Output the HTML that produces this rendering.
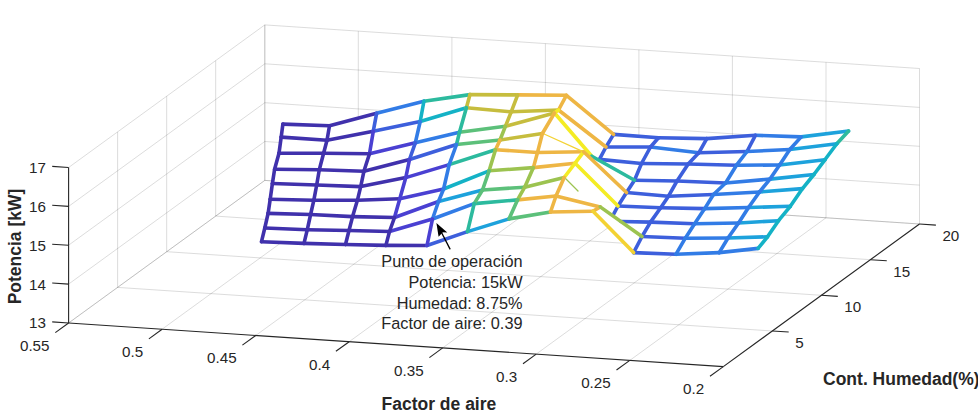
<!DOCTYPE html>
<html><head><meta charset="utf-8"><style>
html,body{margin:0;padding:0;background:#fff;}
svg{display:block;}
text{font-family:"Liberation Sans",sans-serif;fill:#262626;}
</style></head><body>
<svg width="978" height="413" viewBox="0 0 978 413">
<rect width="978" height="413" fill="#fff"/>
<g><line x1="68.6" y1="323.0" x2="264.8" y2="180.4" stroke="#262626" stroke-width="1" stroke-opacity="0.16"/>
<line x1="162.1" y1="329.2" x2="358.3" y2="186.6" stroke="#262626" stroke-width="1" stroke-opacity="0.16"/>
<line x1="255.7" y1="335.5" x2="451.9" y2="192.9" stroke="#262626" stroke-width="1" stroke-opacity="0.16"/>
<line x1="349.2" y1="341.7" x2="545.4" y2="199.1" stroke="#262626" stroke-width="1" stroke-opacity="0.16"/>
<line x1="442.7" y1="347.9" x2="638.9" y2="205.3" stroke="#262626" stroke-width="1" stroke-opacity="0.16"/>
<line x1="536.2" y1="354.1" x2="732.4" y2="211.5" stroke="#262626" stroke-width="1" stroke-opacity="0.16"/>
<line x1="629.8" y1="360.4" x2="826.0" y2="217.8" stroke="#262626" stroke-width="1" stroke-opacity="0.16"/>
<line x1="723.3" y1="366.6" x2="919.5" y2="224.0" stroke="#262626" stroke-width="1" stroke-opacity="0.16"/>
<line x1="117.6" y1="287.4" x2="772.4" y2="331.0" stroke="#262626" stroke-width="1" stroke-opacity="0.16"/>
<line x1="166.7" y1="251.7" x2="821.4" y2="295.3" stroke="#262626" stroke-width="1" stroke-opacity="0.16"/>
<line x1="215.7" y1="216.1" x2="870.5" y2="259.7" stroke="#262626" stroke-width="1" stroke-opacity="0.16"/>
<line x1="264.8" y1="180.4" x2="919.5" y2="224.0" stroke="#262626" stroke-width="1" stroke-opacity="0.16"/>
<line x1="264.8" y1="180.4" x2="264.8" y2="24.9" stroke="#262626" stroke-width="1" stroke-opacity="0.16"/>
<line x1="358.3" y1="186.6" x2="358.3" y2="31.1" stroke="#262626" stroke-width="1" stroke-opacity="0.16"/>
<line x1="451.9" y1="192.9" x2="451.9" y2="37.4" stroke="#262626" stroke-width="1" stroke-opacity="0.16"/>
<line x1="545.4" y1="199.1" x2="545.4" y2="43.6" stroke="#262626" stroke-width="1" stroke-opacity="0.16"/>
<line x1="638.9" y1="205.3" x2="638.9" y2="49.8" stroke="#262626" stroke-width="1" stroke-opacity="0.16"/>
<line x1="732.4" y1="211.5" x2="732.4" y2="56.0" stroke="#262626" stroke-width="1" stroke-opacity="0.16"/>
<line x1="826.0" y1="217.8" x2="826.0" y2="62.3" stroke="#262626" stroke-width="1" stroke-opacity="0.16"/>
<line x1="919.5" y1="224.0" x2="919.5" y2="68.5" stroke="#262626" stroke-width="1" stroke-opacity="0.16"/>
<line x1="264.8" y1="180.4" x2="919.5" y2="224.0" stroke="#262626" stroke-width="1" stroke-opacity="0.16"/>
<line x1="264.8" y1="141.5" x2="919.5" y2="185.1" stroke="#262626" stroke-width="1" stroke-opacity="0.16"/>
<line x1="264.8" y1="102.7" x2="919.5" y2="146.3" stroke="#262626" stroke-width="1" stroke-opacity="0.16"/>
<line x1="264.8" y1="63.8" x2="919.5" y2="107.4" stroke="#262626" stroke-width="1" stroke-opacity="0.16"/>
<line x1="264.8" y1="24.9" x2="919.5" y2="68.5" stroke="#262626" stroke-width="1" stroke-opacity="0.16"/>
<line x1="117.6" y1="287.4" x2="117.6" y2="131.9" stroke="#262626" stroke-width="1" stroke-opacity="0.16"/>
<line x1="166.7" y1="251.7" x2="166.7" y2="96.2" stroke="#262626" stroke-width="1" stroke-opacity="0.16"/>
<line x1="215.7" y1="216.1" x2="215.7" y2="60.6" stroke="#262626" stroke-width="1" stroke-opacity="0.16"/>
<line x1="264.8" y1="180.4" x2="264.8" y2="24.9" stroke="#262626" stroke-width="1" stroke-opacity="0.16"/>
<line x1="68.6" y1="323.0" x2="264.8" y2="180.4" stroke="#262626" stroke-width="1" stroke-opacity="0.16"/>
<line x1="68.6" y1="284.1" x2="264.8" y2="141.5" stroke="#262626" stroke-width="1" stroke-opacity="0.16"/>
<line x1="68.6" y1="245.2" x2="264.8" y2="102.7" stroke="#262626" stroke-width="1" stroke-opacity="0.16"/>
<line x1="68.6" y1="206.4" x2="264.8" y2="63.8" stroke="#262626" stroke-width="1" stroke-opacity="0.16"/>
<line x1="68.6" y1="167.5" x2="264.8" y2="24.9" stroke="#262626" stroke-width="1" stroke-opacity="0.16"/></g>
<g><line x1="68.6" y1="323.0" x2="68.6" y2="167.5" stroke="#262626" stroke-width="1.1"/>
<line x1="68.6" y1="323.0" x2="723.3" y2="366.6" stroke="#262626" stroke-width="1.1"/>
<line x1="723.3" y1="366.6" x2="919.5" y2="224.0" stroke="#262626" stroke-width="1.1"/>
<line x1="68.6" y1="323.0" x2="55.3" y2="332.6" stroke="#262626" stroke-width="1.1"/>
<line x1="162.1" y1="329.2" x2="148.9" y2="338.9" stroke="#262626" stroke-width="1.1"/>
<line x1="255.7" y1="335.5" x2="242.4" y2="345.1" stroke="#262626" stroke-width="1.1"/>
<line x1="349.2" y1="341.7" x2="335.9" y2="351.3" stroke="#262626" stroke-width="1.1"/>
<line x1="442.7" y1="347.9" x2="429.4" y2="357.6" stroke="#262626" stroke-width="1.1"/>
<line x1="536.2" y1="354.1" x2="523.0" y2="363.8" stroke="#262626" stroke-width="1.1"/>
<line x1="629.8" y1="360.4" x2="616.5" y2="370.0" stroke="#262626" stroke-width="1.1"/>
<line x1="723.3" y1="366.6" x2="710.0" y2="376.2" stroke="#262626" stroke-width="1.1"/>
<line x1="68.6" y1="323.0" x2="52.2" y2="321.9" stroke="#262626" stroke-width="1.1"/>
<line x1="68.6" y1="284.1" x2="52.2" y2="283.0" stroke="#262626" stroke-width="1.1"/>
<line x1="68.6" y1="245.2" x2="52.2" y2="244.2" stroke="#262626" stroke-width="1.1"/>
<line x1="68.6" y1="206.4" x2="52.2" y2="205.3" stroke="#262626" stroke-width="1.1"/>
<line x1="68.6" y1="167.5" x2="52.2" y2="166.4" stroke="#262626" stroke-width="1.1"/>
<line x1="772.4" y1="331.0" x2="788.7" y2="332.0" stroke="#262626" stroke-width="1.1"/>
<line x1="821.4" y1="295.3" x2="837.8" y2="296.4" stroke="#262626" stroke-width="1.1"/>
<line x1="870.5" y1="259.7" x2="886.8" y2="260.7" stroke="#262626" stroke-width="1.1"/>
<line x1="919.5" y1="224.0" x2="935.9" y2="225.1" stroke="#262626" stroke-width="1.1"/></g>
<g><text x="45.9" y="328.4" text-anchor="end" font-size="15.2" font-weight="normal">13</text><text x="45.9" y="289.5" text-anchor="end" font-size="15.2" font-weight="normal">14</text><text x="45.9" y="250.7" text-anchor="end" font-size="15.2" font-weight="normal">15</text><text x="45.9" y="211.8" text-anchor="end" font-size="15.2" font-weight="normal">16</text><text x="45.9" y="172.9" text-anchor="end" font-size="15.2" font-weight="normal">17</text><text x="49.5" y="350.8" text-anchor="end" font-size="15.2" font-weight="normal">0.55</text><text x="143.1" y="357.1" text-anchor="end" font-size="15.2" font-weight="normal">0.5</text><text x="236.6" y="363.3" text-anchor="end" font-size="15.2" font-weight="normal">0.45</text><text x="330.1" y="369.5" text-anchor="end" font-size="15.2" font-weight="normal">0.4</text><text x="423.6" y="375.8" text-anchor="end" font-size="15.2" font-weight="normal">0.35</text><text x="517.2" y="382.0" text-anchor="end" font-size="15.2" font-weight="normal">0.3</text><text x="610.7" y="388.2" text-anchor="end" font-size="15.2" font-weight="normal">0.25</text><text x="704.2" y="394.4" text-anchor="end" font-size="15.2" font-weight="normal">0.2</text><text x="795.2" y="347.9" text-anchor="start" font-size="15.2" font-weight="normal">5</text><text x="844.3" y="312.3" text-anchor="start" font-size="15.2" font-weight="normal">10</text><text x="893.3" y="276.6" text-anchor="start" font-size="15.2" font-weight="normal">15</text><text x="942.4" y="241.0" text-anchor="start" font-size="15.2" font-weight="normal">20</text></g>
<g><polygon points="282.9,124.1 329.5,125.8 376.6,113.3 423.9,101.2 470.0,94.6 517.7,94.9 566.4,95.3 613.6,134.4 658.5,137.8 706.8,138.6 755.4,135.3 801.2,136.9 848.6,131.0 836.8,143.7 824.9,159.8 813.9,174.5 802.5,188.6 790.3,206.3 778.5,220.7 767.5,236.8 758.1,248.4 719.2,252.6 675.9,254.3 633.6,252.6 593.0,211.2 550.5,212.0 509.0,218.9 467.5,231.6 427.0,245.5 385.9,245.4 345.5,244.5 304.0,243.4 261.5,241.7 264.8,228.0 268.1,213.4 270.2,199.2 272.4,183.5 274.6,169.2 279.0,153.2 281.2,137.1" fill="#fff"/>
<line x1="658.5" y1="137.8" x2="706.8" y2="138.6" stroke="#3d5fdc" stroke-width="3.6" stroke-linecap="round"/>
<line x1="706.8" y1="138.6" x2="755.4" y2="135.3" stroke="#3d5fdc" stroke-width="3.6" stroke-linecap="round"/>
<line x1="755.4" y1="135.3" x2="801.2" y2="136.9" stroke="#327ce6" stroke-width="3.6" stroke-linecap="round"/>
<line x1="801.2" y1="136.9" x2="848.6" y2="131.0" stroke="#1da2dc" stroke-width="3.6" stroke-linecap="round"/>
<line x1="650.5" y1="147.0" x2="698.8" y2="152.8" stroke="#327ce6" stroke-width="3.6" stroke-linecap="round"/>
<line x1="698.8" y1="152.8" x2="747.0" y2="151.5" stroke="#3d5fdc" stroke-width="3.6" stroke-linecap="round"/>
<line x1="747.0" y1="151.5" x2="789.8" y2="149.5" stroke="#327ce6" stroke-width="3.6" stroke-linecap="round"/>
<line x1="789.8" y1="149.5" x2="836.8" y2="143.7" stroke="#1da2dc" stroke-width="3.6" stroke-linecap="round"/>
<line x1="641.5" y1="163.5" x2="688.2" y2="164.0" stroke="#3d5fdc" stroke-width="3.6" stroke-linecap="round"/>
<line x1="688.2" y1="164.0" x2="736.5" y2="165.2" stroke="#3d5fdc" stroke-width="3.6" stroke-linecap="round"/>
<line x1="736.5" y1="165.2" x2="779.6" y2="165.0" stroke="#327ce6" stroke-width="3.6" stroke-linecap="round"/>
<line x1="779.6" y1="165.0" x2="824.9" y2="159.8" stroke="#1da2dc" stroke-width="3.6" stroke-linecap="round"/>
<line x1="634.5" y1="180.2" x2="677.0" y2="181.0" stroke="#3d5fdc" stroke-width="3.6" stroke-linecap="round"/>
<line x1="677.0" y1="181.0" x2="725.6" y2="183.0" stroke="#3d5fdc" stroke-width="3.6" stroke-linecap="round"/>
<line x1="725.6" y1="183.0" x2="770.0" y2="179.1" stroke="#327ce6" stroke-width="3.6" stroke-linecap="round"/>
<line x1="770.0" y1="179.1" x2="813.9" y2="174.5" stroke="#1da2dc" stroke-width="3.6" stroke-linecap="round"/>
<line x1="626.5" y1="192.5" x2="668.5" y2="196.2" stroke="#3d5fdc" stroke-width="3.6" stroke-linecap="round"/>
<line x1="668.5" y1="196.2" x2="713.5" y2="194.5" stroke="#3d5fdc" stroke-width="3.6" stroke-linecap="round"/>
<line x1="713.5" y1="194.5" x2="759.5" y2="192.0" stroke="#327ce6" stroke-width="3.6" stroke-linecap="round"/>
<line x1="759.5" y1="192.0" x2="802.5" y2="188.6" stroke="#1da2dc" stroke-width="3.6" stroke-linecap="round"/>
<line x1="618.0" y1="206.0" x2="660.7" y2="207.7" stroke="#3d5fdc" stroke-width="3.6" stroke-linecap="round"/>
<line x1="660.7" y1="207.7" x2="704.7" y2="208.6" stroke="#3d5fdc" stroke-width="3.6" stroke-linecap="round"/>
<line x1="704.7" y1="208.6" x2="748.5" y2="207.5" stroke="#327ce6" stroke-width="3.6" stroke-linecap="round"/>
<line x1="748.5" y1="207.5" x2="790.3" y2="206.3" stroke="#1da2dc" stroke-width="3.6" stroke-linecap="round"/>
<line x1="650.5" y1="222.1" x2="694.6" y2="223.8" stroke="#3d5fdc" stroke-width="3.6" stroke-linecap="round"/>
<line x1="694.6" y1="223.8" x2="738.6" y2="223.0" stroke="#327ce6" stroke-width="3.6" stroke-linecap="round"/>
<line x1="738.6" y1="223.0" x2="778.5" y2="220.7" stroke="#1da2dc" stroke-width="3.6" stroke-linecap="round"/>
<line x1="642.0" y1="236.5" x2="685.3" y2="238.2" stroke="#3d5fdc" stroke-width="3.6" stroke-linecap="round"/>
<line x1="685.3" y1="238.2" x2="728.0" y2="238.0" stroke="#327ce6" stroke-width="3.6" stroke-linecap="round"/>
<line x1="728.0" y1="238.0" x2="767.5" y2="236.8" stroke="#1da2dc" stroke-width="3.6" stroke-linecap="round"/>
<line x1="633.6" y1="252.6" x2="675.9" y2="254.3" stroke="#3d5fdc" stroke-width="3.6" stroke-linecap="round"/>
<line x1="675.9" y1="254.3" x2="719.2" y2="252.6" stroke="#327ce6" stroke-width="3.6" stroke-linecap="round"/>
<line x1="719.2" y1="252.6" x2="758.1" y2="248.4" stroke="#327ce6" stroke-width="3.6" stroke-linecap="round"/>
<line x1="706.8" y1="138.6" x2="698.8" y2="152.8" stroke="#3d5fdc" stroke-width="3.6" stroke-linecap="round"/>
<line x1="698.8" y1="152.8" x2="688.2" y2="164.0" stroke="#3d5fdc" stroke-width="3.6" stroke-linecap="round"/>
<line x1="688.2" y1="164.0" x2="677.0" y2="181.0" stroke="#3d5fdc" stroke-width="3.6" stroke-linecap="round"/>
<line x1="677.0" y1="181.0" x2="668.5" y2="196.2" stroke="#3d5fdc" stroke-width="3.6" stroke-linecap="round"/>
<line x1="668.5" y1="196.2" x2="660.7" y2="207.7" stroke="#3d5fdc" stroke-width="3.6" stroke-linecap="round"/>
<line x1="660.7" y1="207.7" x2="650.5" y2="222.1" stroke="#3d5fdc" stroke-width="3.6" stroke-linecap="round"/>
<line x1="650.5" y1="222.1" x2="642.0" y2="236.5" stroke="#3d5fdc" stroke-width="3.6" stroke-linecap="round"/>
<line x1="642.0" y1="236.5" x2="633.6" y2="252.6" stroke="#3d5fdc" stroke-width="3.6" stroke-linecap="round"/>
<line x1="755.4" y1="135.3" x2="747.0" y2="151.5" stroke="#3d5fdc" stroke-width="3.6" stroke-linecap="round"/>
<line x1="747.0" y1="151.5" x2="736.5" y2="165.2" stroke="#327ce6" stroke-width="3.6" stroke-linecap="round"/>
<line x1="736.5" y1="165.2" x2="725.6" y2="183.0" stroke="#327ce6" stroke-width="3.6" stroke-linecap="round"/>
<line x1="725.6" y1="183.0" x2="713.5" y2="194.5" stroke="#327ce6" stroke-width="3.6" stroke-linecap="round"/>
<line x1="713.5" y1="194.5" x2="704.7" y2="208.6" stroke="#327ce6" stroke-width="3.6" stroke-linecap="round"/>
<line x1="704.7" y1="208.6" x2="694.6" y2="223.8" stroke="#327ce6" stroke-width="3.6" stroke-linecap="round"/>
<line x1="694.6" y1="223.8" x2="685.3" y2="238.2" stroke="#327ce6" stroke-width="3.6" stroke-linecap="round"/>
<line x1="685.3" y1="238.2" x2="675.9" y2="254.3" stroke="#327ce6" stroke-width="3.6" stroke-linecap="round"/>
<line x1="801.2" y1="136.9" x2="789.8" y2="149.5" stroke="#327ce6" stroke-width="3.6" stroke-linecap="round"/>
<line x1="789.8" y1="149.5" x2="779.6" y2="165.0" stroke="#327ce6" stroke-width="3.6" stroke-linecap="round"/>
<line x1="779.6" y1="165.0" x2="770.0" y2="179.1" stroke="#327ce6" stroke-width="3.6" stroke-linecap="round"/>
<line x1="770.0" y1="179.1" x2="759.5" y2="192.0" stroke="#327ce6" stroke-width="3.6" stroke-linecap="round"/>
<line x1="759.5" y1="192.0" x2="748.5" y2="207.5" stroke="#327ce6" stroke-width="3.6" stroke-linecap="round"/>
<line x1="748.5" y1="207.5" x2="738.6" y2="223.0" stroke="#327ce6" stroke-width="3.6" stroke-linecap="round"/>
<line x1="738.6" y1="223.0" x2="728.0" y2="238.0" stroke="#327ce6" stroke-width="3.6" stroke-linecap="round"/>
<line x1="728.0" y1="238.0" x2="719.2" y2="252.6" stroke="#327ce6" stroke-width="3.6" stroke-linecap="round"/>
<line x1="848.6" y1="131.0" x2="836.8" y2="143.7" stroke="#2cba9e" stroke-width="3.6" stroke-linecap="round"/>
<line x1="836.8" y1="143.7" x2="824.9" y2="159.8" stroke="#14b2c6" stroke-width="3.6" stroke-linecap="round"/>
<line x1="824.9" y1="159.8" x2="813.9" y2="174.5" stroke="#14b2c6" stroke-width="3.6" stroke-linecap="round"/>
<line x1="813.9" y1="174.5" x2="802.5" y2="188.6" stroke="#14b2c6" stroke-width="3.6" stroke-linecap="round"/>
<line x1="802.5" y1="188.6" x2="790.3" y2="206.3" stroke="#14b2c6" stroke-width="3.6" stroke-linecap="round"/>
<line x1="790.3" y1="206.3" x2="778.5" y2="220.7" stroke="#14b2c6" stroke-width="3.6" stroke-linecap="round"/>
<line x1="778.5" y1="220.7" x2="767.5" y2="236.8" stroke="#14b2c6" stroke-width="3.6" stroke-linecap="round"/>
<line x1="767.5" y1="236.8" x2="758.1" y2="248.4" stroke="#14b2c6" stroke-width="3.6" stroke-linecap="round"/>
<line x1="613.6" y1="134.4" x2="658.5" y2="137.8" stroke="#3d5fdc" stroke-width="3.6" stroke-linecap="round"/>
<line x1="606.0" y1="147.0" x2="650.5" y2="147.0" stroke="#3d5fdc" stroke-width="3.6" stroke-linecap="round"/>
<line x1="599.4" y1="159.4" x2="641.5" y2="163.5" stroke="#3d5fdc" stroke-width="3.6" stroke-linecap="round"/>
<line x1="613.6" y1="134.4" x2="606.0" y2="147.0" stroke="#3d5fdc" stroke-width="3.6" stroke-linecap="round"/>
<line x1="606.0" y1="147.0" x2="599.4" y2="159.4" stroke="#3d5fdc" stroke-width="3.6" stroke-linecap="round"/>
<line x1="658.5" y1="137.8" x2="650.5" y2="147.0" stroke="#3d5fdc" stroke-width="3.6" stroke-linecap="round"/>
<line x1="650.5" y1="147.0" x2="641.5" y2="163.5" stroke="#3d5fdc" stroke-width="3.6" stroke-linecap="round"/>
<line x1="641.5" y1="163.5" x2="634.5" y2="180.2" stroke="#3d5fdc" stroke-width="3.6" stroke-linecap="round"/>
<line x1="634.5" y1="180.2" x2="626.5" y2="192.5" stroke="#3d5fdc" stroke-width="3.6" stroke-linecap="round"/>
<line x1="626.5" y1="192.5" x2="618.0" y2="206.0" stroke="#3d5fdc" stroke-width="3.6" stroke-linecap="round"/>
<line x1="618.0" y1="206.0" x2="613.9" y2="213.6" stroke="#3d5fdc" stroke-width="3.6" stroke-linecap="round"/>
<line x1="566.4" y1="95.3" x2="613.6" y2="134.4" stroke="#eeb644" stroke-width="3.6" stroke-linecap="round"/>
<line x1="558.5" y1="110.0" x2="606.0" y2="147.0" stroke="#eeb644" stroke-width="3.6" stroke-linecap="round"/>
<line x1="537.5" y1="152.5" x2="583.6" y2="151.8" stroke="#eeb644" stroke-width="3.6" stroke-linecap="round"/>
<line x1="533.4" y1="167.6" x2="575.1" y2="163.2" stroke="#eeb644" stroke-width="3.6" stroke-linecap="round"/>
<line x1="524.7" y1="187.2" x2="564.2" y2="177.5" stroke="#9cc350" stroke-width="3.6" stroke-linecap="round"/>
<line x1="517.5" y1="199.9" x2="556.0" y2="196.0" stroke="#eeb644" stroke-width="3.6" stroke-linecap="round"/>
<line x1="509.0" y1="218.9" x2="550.5" y2="212.0" stroke="#5cc07a" stroke-width="3.6" stroke-linecap="round"/>
<line x1="554.5" y1="113.0" x2="591.8" y2="156.2" stroke="#f4ec24" stroke-width="3.6" stroke-linecap="round"/>
<line x1="543.0" y1="133.5" x2="583.6" y2="151.8" stroke="#f3d233" stroke-width="1.3" stroke-linecap="round"/>
<line x1="583.6" y1="151.8" x2="575.1" y2="163.2" stroke="#f4ec24" stroke-width="3.6" stroke-linecap="round"/>
<line x1="575.1" y1="163.2" x2="564.2" y2="177.5" stroke="#f4ec24" stroke-width="3.6" stroke-linecap="round"/>
<line x1="564.2" y1="177.5" x2="556.0" y2="196.0" stroke="#eeb644" stroke-width="3.6" stroke-linecap="round"/>
<line x1="556.0" y1="196.0" x2="550.5" y2="212.0" stroke="#eeb644" stroke-width="3.6" stroke-linecap="round"/>
<line x1="591.8" y1="156.2" x2="634.5" y2="180.2" stroke="#2cba9e" stroke-width="3.6" stroke-linecap="round"/>
<line x1="583.6" y1="151.8" x2="626.5" y2="192.5" stroke="#eeb644" stroke-width="3.6" stroke-linecap="round"/>
<line x1="575.1" y1="163.2" x2="618.0" y2="206.0" stroke="#f4ec24" stroke-width="3.6" stroke-linecap="round"/>
<line x1="566.0" y1="179.0" x2="578.0" y2="191.0" stroke="#9cc350" stroke-width="1.3" stroke-linecap="round"/>
<line x1="556.0" y1="196.0" x2="600.2" y2="206.9" stroke="#eeb644" stroke-width="3.6" stroke-linecap="round"/>
<line x1="550.5" y1="212.0" x2="593.0" y2="211.2" stroke="#eeb644" stroke-width="3.6" stroke-linecap="round"/>
<line x1="600.2" y1="206.9" x2="593.0" y2="211.2" stroke="#eeb644" stroke-width="3.6" stroke-linecap="round"/>
<line x1="621.0" y1="221.5" x2="650.5" y2="222.1" stroke="#3d5fdc" stroke-width="3.6" stroke-linecap="round"/>
<line x1="600.2" y1="206.9" x2="642.0" y2="236.5" stroke="#9cc350" stroke-width="3.6" stroke-linecap="round"/>
<line x1="593.0" y1="211.2" x2="633.6" y2="252.6" stroke="#f3d233" stroke-width="3.6" stroke-linecap="round"/>
<line x1="282.9" y1="124.1" x2="329.5" y2="125.8" stroke="#4031ac" stroke-width="3.6" stroke-linecap="round"/>
<line x1="329.5" y1="125.8" x2="376.6" y2="113.3" stroke="#4031ac" stroke-width="3.6" stroke-linecap="round"/>
<line x1="376.6" y1="113.3" x2="423.9" y2="101.2" stroke="#327ce6" stroke-width="3.6" stroke-linecap="round"/>
<line x1="423.9" y1="101.2" x2="470.0" y2="94.6" stroke="#2cba9e" stroke-width="3.6" stroke-linecap="round"/>
<line x1="470.0" y1="94.6" x2="517.7" y2="94.9" stroke="#c6bd3e" stroke-width="3.6" stroke-linecap="round"/>
<line x1="517.7" y1="94.9" x2="566.4" y2="95.3" stroke="#eeb644" stroke-width="3.6" stroke-linecap="round"/>
<line x1="281.2" y1="137.1" x2="327.0" y2="140.2" stroke="#4031ac" stroke-width="3.6" stroke-linecap="round"/>
<line x1="327.0" y1="140.2" x2="373.3" y2="131.2" stroke="#4031ac" stroke-width="3.6" stroke-linecap="round"/>
<line x1="373.3" y1="131.2" x2="420.2" y2="121.5" stroke="#3d5fdc" stroke-width="3.6" stroke-linecap="round"/>
<line x1="420.2" y1="121.5" x2="466.4" y2="107.7" stroke="#14b2c6" stroke-width="3.6" stroke-linecap="round"/>
<line x1="466.4" y1="107.7" x2="511.2" y2="111.8" stroke="#c6bd3e" stroke-width="3.6" stroke-linecap="round"/>
<line x1="511.2" y1="111.8" x2="558.5" y2="110.0" stroke="#c6bd3e" stroke-width="3.6" stroke-linecap="round"/>
<line x1="279.0" y1="153.2" x2="323.6" y2="153.2" stroke="#4031ac" stroke-width="3.6" stroke-linecap="round"/>
<line x1="323.6" y1="153.2" x2="369.5" y2="153.8" stroke="#4031ac" stroke-width="3.6" stroke-linecap="round"/>
<line x1="369.5" y1="153.8" x2="415.3" y2="142.8" stroke="#4a40d2" stroke-width="3.6" stroke-linecap="round"/>
<line x1="415.3" y1="142.8" x2="459.5" y2="132.2" stroke="#327ce6" stroke-width="3.6" stroke-linecap="round"/>
<line x1="459.5" y1="132.2" x2="505.4" y2="126.3" stroke="#5cc07a" stroke-width="3.6" stroke-linecap="round"/>
<line x1="505.4" y1="126.3" x2="554.5" y2="113.0" stroke="#c6bd3e" stroke-width="3.6" stroke-linecap="round"/>
<line x1="274.6" y1="169.2" x2="319.3" y2="169.8" stroke="#4031ac" stroke-width="3.6" stroke-linecap="round"/>
<line x1="319.3" y1="169.8" x2="363.9" y2="171.3" stroke="#4031ac" stroke-width="3.6" stroke-linecap="round"/>
<line x1="363.9" y1="171.3" x2="409.5" y2="159.5" stroke="#4031ac" stroke-width="3.6" stroke-linecap="round"/>
<line x1="409.5" y1="159.5" x2="456.5" y2="144.5" stroke="#3d5fdc" stroke-width="3.6" stroke-linecap="round"/>
<line x1="456.5" y1="144.5" x2="500.0" y2="140.0" stroke="#5cc07a" stroke-width="3.6" stroke-linecap="round"/>
<line x1="500.0" y1="140.0" x2="542.4" y2="133.5" stroke="#c6bd3e" stroke-width="3.6" stroke-linecap="round"/>
<line x1="272.4" y1="183.5" x2="316.7" y2="185.0" stroke="#4031ac" stroke-width="3.6" stroke-linecap="round"/>
<line x1="316.7" y1="185.0" x2="360.7" y2="186.6" stroke="#4031ac" stroke-width="3.6" stroke-linecap="round"/>
<line x1="360.7" y1="186.6" x2="405.8" y2="177.6" stroke="#4031ac" stroke-width="3.6" stroke-linecap="round"/>
<line x1="405.8" y1="177.6" x2="449.2" y2="164.6" stroke="#4a40d2" stroke-width="3.6" stroke-linecap="round"/>
<line x1="449.2" y1="164.6" x2="495.5" y2="149.7" stroke="#2cba9e" stroke-width="3.6" stroke-linecap="round"/>
<line x1="495.5" y1="149.7" x2="537.5" y2="152.5" stroke="#eeb644" stroke-width="3.6" stroke-linecap="round"/>
<line x1="270.2" y1="199.2" x2="313.8" y2="200.3" stroke="#4031ac" stroke-width="3.6" stroke-linecap="round"/>
<line x1="313.8" y1="200.3" x2="357.4" y2="200.3" stroke="#4031ac" stroke-width="3.6" stroke-linecap="round"/>
<line x1="357.4" y1="200.3" x2="399.8" y2="198.7" stroke="#4031ac" stroke-width="3.6" stroke-linecap="round"/>
<line x1="399.8" y1="198.7" x2="443.6" y2="189.0" stroke="#4a40d2" stroke-width="3.6" stroke-linecap="round"/>
<line x1="443.6" y1="189.0" x2="489.1" y2="170.8" stroke="#14b2c6" stroke-width="3.6" stroke-linecap="round"/>
<line x1="489.1" y1="170.8" x2="533.4" y2="167.6" stroke="#9cc350" stroke-width="3.6" stroke-linecap="round"/>
<line x1="268.1" y1="213.4" x2="310.6" y2="214.5" stroke="#4031ac" stroke-width="3.6" stroke-linecap="round"/>
<line x1="310.6" y1="214.5" x2="352.6" y2="216.6" stroke="#4031ac" stroke-width="3.6" stroke-linecap="round"/>
<line x1="352.6" y1="216.6" x2="394.5" y2="217.5" stroke="#4031ac" stroke-width="3.6" stroke-linecap="round"/>
<line x1="394.5" y1="217.5" x2="438.5" y2="201.5" stroke="#4a40d2" stroke-width="3.6" stroke-linecap="round"/>
<line x1="438.5" y1="201.5" x2="482.5" y2="190.0" stroke="#1da2dc" stroke-width="3.6" stroke-linecap="round"/>
<line x1="482.5" y1="190.0" x2="524.7" y2="187.2" stroke="#5cc07a" stroke-width="3.6" stroke-linecap="round"/>
<line x1="264.8" y1="228.0" x2="307.3" y2="229.7" stroke="#4031ac" stroke-width="3.6" stroke-linecap="round"/>
<line x1="307.3" y1="229.7" x2="349.0" y2="230.5" stroke="#4031ac" stroke-width="3.6" stroke-linecap="round"/>
<line x1="349.0" y1="230.5" x2="389.5" y2="231.5" stroke="#4031ac" stroke-width="3.6" stroke-linecap="round"/>
<line x1="389.5" y1="231.5" x2="432.5" y2="219.0" stroke="#4a40d2" stroke-width="3.6" stroke-linecap="round"/>
<line x1="432.5" y1="219.0" x2="474.2" y2="203.6" stroke="#327ce6" stroke-width="3.6" stroke-linecap="round"/>
<line x1="474.2" y1="203.6" x2="517.5" y2="199.9" stroke="#2cba9e" stroke-width="3.6" stroke-linecap="round"/>
<line x1="261.5" y1="241.7" x2="304.0" y2="243.4" stroke="#4031ac" stroke-width="3.6" stroke-linecap="round"/>
<line x1="304.0" y1="243.4" x2="345.5" y2="244.5" stroke="#4031ac" stroke-width="3.6" stroke-linecap="round"/>
<line x1="345.5" y1="244.5" x2="385.9" y2="245.4" stroke="#4031ac" stroke-width="3.6" stroke-linecap="round"/>
<line x1="385.9" y1="245.4" x2="427.0" y2="245.5" stroke="#4031ac" stroke-width="3.6" stroke-linecap="round"/>
<line x1="427.0" y1="245.5" x2="467.5" y2="231.6" stroke="#3d5fdc" stroke-width="3.6" stroke-linecap="round"/>
<line x1="467.5" y1="231.6" x2="509.0" y2="218.9" stroke="#1da2dc" stroke-width="3.6" stroke-linecap="round"/>
<line x1="282.9" y1="124.1" x2="281.2" y2="137.1" stroke="#4031ac" stroke-width="3.6" stroke-linecap="round"/>
<line x1="281.2" y1="137.1" x2="279.0" y2="153.2" stroke="#4031ac" stroke-width="3.6" stroke-linecap="round"/>
<line x1="279.0" y1="153.2" x2="274.6" y2="169.2" stroke="#4031ac" stroke-width="3.6" stroke-linecap="round"/>
<line x1="274.6" y1="169.2" x2="272.4" y2="183.5" stroke="#4031ac" stroke-width="3.6" stroke-linecap="round"/>
<line x1="272.4" y1="183.5" x2="270.2" y2="199.2" stroke="#4031ac" stroke-width="3.6" stroke-linecap="round"/>
<line x1="270.2" y1="199.2" x2="268.1" y2="213.4" stroke="#4031ac" stroke-width="3.6" stroke-linecap="round"/>
<line x1="268.1" y1="213.4" x2="264.8" y2="228.0" stroke="#4031ac" stroke-width="3.6" stroke-linecap="round"/>
<line x1="264.8" y1="228.0" x2="261.5" y2="241.7" stroke="#4031ac" stroke-width="3.6" stroke-linecap="round"/>
<line x1="329.5" y1="125.8" x2="327.0" y2="140.2" stroke="#4031ac" stroke-width="3.6" stroke-linecap="round"/>
<line x1="327.0" y1="140.2" x2="323.6" y2="153.2" stroke="#4031ac" stroke-width="3.6" stroke-linecap="round"/>
<line x1="323.6" y1="153.2" x2="319.3" y2="169.8" stroke="#4031ac" stroke-width="3.6" stroke-linecap="round"/>
<line x1="319.3" y1="169.8" x2="316.7" y2="185.0" stroke="#4031ac" stroke-width="3.6" stroke-linecap="round"/>
<line x1="316.7" y1="185.0" x2="313.8" y2="200.3" stroke="#4031ac" stroke-width="3.6" stroke-linecap="round"/>
<line x1="313.8" y1="200.3" x2="310.6" y2="214.5" stroke="#4031ac" stroke-width="3.6" stroke-linecap="round"/>
<line x1="310.6" y1="214.5" x2="307.3" y2="229.7" stroke="#4031ac" stroke-width="3.6" stroke-linecap="round"/>
<line x1="307.3" y1="229.7" x2="304.0" y2="243.4" stroke="#4031ac" stroke-width="3.6" stroke-linecap="round"/>
<line x1="376.6" y1="113.3" x2="373.3" y2="131.2" stroke="#3d5fdc" stroke-width="3.6" stroke-linecap="round"/>
<line x1="373.3" y1="131.2" x2="369.5" y2="153.8" stroke="#4a40d2" stroke-width="3.6" stroke-linecap="round"/>
<line x1="369.5" y1="153.8" x2="363.9" y2="171.3" stroke="#4031ac" stroke-width="3.6" stroke-linecap="round"/>
<line x1="363.9" y1="171.3" x2="360.7" y2="186.6" stroke="#4031ac" stroke-width="3.6" stroke-linecap="round"/>
<line x1="360.7" y1="186.6" x2="357.4" y2="200.3" stroke="#4031ac" stroke-width="3.6" stroke-linecap="round"/>
<line x1="357.4" y1="200.3" x2="352.6" y2="216.6" stroke="#4031ac" stroke-width="3.6" stroke-linecap="round"/>
<line x1="352.6" y1="216.6" x2="349.0" y2="230.5" stroke="#4031ac" stroke-width="3.6" stroke-linecap="round"/>
<line x1="349.0" y1="230.5" x2="345.5" y2="244.5" stroke="#4031ac" stroke-width="3.6" stroke-linecap="round"/>
<line x1="423.9" y1="101.2" x2="420.2" y2="121.5" stroke="#14b2c6" stroke-width="3.6" stroke-linecap="round"/>
<line x1="420.2" y1="121.5" x2="415.3" y2="142.8" stroke="#327ce6" stroke-width="3.6" stroke-linecap="round"/>
<line x1="415.3" y1="142.8" x2="409.5" y2="159.5" stroke="#3d5fdc" stroke-width="3.6" stroke-linecap="round"/>
<line x1="409.5" y1="159.5" x2="405.8" y2="177.6" stroke="#4a40d2" stroke-width="3.6" stroke-linecap="round"/>
<line x1="405.8" y1="177.6" x2="399.8" y2="198.7" stroke="#4a40d2" stroke-width="3.6" stroke-linecap="round"/>
<line x1="399.8" y1="198.7" x2="394.5" y2="217.5" stroke="#4a40d2" stroke-width="3.6" stroke-linecap="round"/>
<line x1="394.5" y1="217.5" x2="389.5" y2="231.5" stroke="#4031ac" stroke-width="3.6" stroke-linecap="round"/>
<line x1="389.5" y1="231.5" x2="385.9" y2="245.4" stroke="#4031ac" stroke-width="3.6" stroke-linecap="round"/>
<line x1="470.0" y1="94.6" x2="466.4" y2="107.7" stroke="#c6bd3e" stroke-width="3.6" stroke-linecap="round"/>
<line x1="466.4" y1="107.7" x2="459.5" y2="132.2" stroke="#2cba9e" stroke-width="3.6" stroke-linecap="round"/>
<line x1="459.5" y1="132.2" x2="456.5" y2="144.5" stroke="#2cba9e" stroke-width="3.6" stroke-linecap="round"/>
<line x1="456.5" y1="144.5" x2="449.2" y2="164.6" stroke="#327ce6" stroke-width="3.6" stroke-linecap="round"/>
<line x1="449.2" y1="164.6" x2="443.6" y2="189.0" stroke="#327ce6" stroke-width="3.6" stroke-linecap="round"/>
<line x1="443.6" y1="189.0" x2="438.5" y2="201.5" stroke="#327ce6" stroke-width="3.6" stroke-linecap="round"/>
<line x1="438.5" y1="201.5" x2="432.5" y2="219.0" stroke="#327ce6" stroke-width="3.6" stroke-linecap="round"/>
<line x1="432.5" y1="219.0" x2="427.0" y2="245.5" stroke="#4a40d2" stroke-width="3.6" stroke-linecap="round"/>
<line x1="517.7" y1="94.9" x2="511.2" y2="111.8" stroke="#c6bd3e" stroke-width="3.6" stroke-linecap="round"/>
<line x1="511.2" y1="111.8" x2="505.4" y2="126.3" stroke="#c6bd3e" stroke-width="3.6" stroke-linecap="round"/>
<line x1="505.4" y1="126.3" x2="500.0" y2="140.0" stroke="#9cc350" stroke-width="3.6" stroke-linecap="round"/>
<line x1="500.0" y1="140.0" x2="495.5" y2="149.7" stroke="#eeb644" stroke-width="3.6" stroke-linecap="round"/>
<line x1="495.5" y1="149.7" x2="489.1" y2="170.8" stroke="#9cc350" stroke-width="3.6" stroke-linecap="round"/>
<line x1="489.1" y1="170.8" x2="482.5" y2="190.0" stroke="#5cc07a" stroke-width="3.6" stroke-linecap="round"/>
<line x1="482.5" y1="190.0" x2="474.2" y2="203.6" stroke="#5cc07a" stroke-width="3.6" stroke-linecap="round"/>
<line x1="474.2" y1="203.6" x2="467.5" y2="231.6" stroke="#2cba9e" stroke-width="3.6" stroke-linecap="round"/>
<line x1="566.4" y1="95.3" x2="558.5" y2="110.0" stroke="#eeb644" stroke-width="3.6" stroke-linecap="round"/>
<line x1="558.5" y1="110.0" x2="554.5" y2="113.0" stroke="#f4ec24" stroke-width="3.6" stroke-linecap="round"/>
<line x1="554.5" y1="113.0" x2="542.4" y2="133.5" stroke="#eeb644" stroke-width="3.6" stroke-linecap="round"/>
<line x1="542.4" y1="133.5" x2="537.5" y2="152.5" stroke="#eeb644" stroke-width="3.6" stroke-linecap="round"/>
<line x1="537.5" y1="152.5" x2="533.4" y2="167.6" stroke="#eeb644" stroke-width="3.6" stroke-linecap="round"/>
<line x1="533.4" y1="167.6" x2="524.7" y2="187.2" stroke="#9cc350" stroke-width="3.6" stroke-linecap="round"/>
<line x1="524.7" y1="187.2" x2="517.5" y2="199.9" stroke="#9cc350" stroke-width="3.6" stroke-linecap="round"/>
<line x1="517.5" y1="199.9" x2="509.0" y2="218.9" stroke="#5cc07a" stroke-width="3.6" stroke-linecap="round"/></g>
<g><text x="522.5" y="267.4" text-anchor="end" font-size="16.3">Punto de operación</text><text x="522.5" y="288.0" text-anchor="end" font-size="16.3">Potencia: 15kW</text><text x="522.5" y="308.6" text-anchor="end" font-size="16.3">Humedad: 8.75%</text><text x="522.5" y="329.2" text-anchor="end" font-size="16.3">Factor de aire: 0.39</text></g>
<g><text x="438.9" y="410.3" text-anchor="middle" font-size="17.5" font-weight="bold">Factor de aire</text><text x="901.3" y="384.7" text-anchor="middle" font-size="17.5" font-weight="bold">Cont. Humedad(%)</text><text transform="translate(20.6,246.5) rotate(-90)" text-anchor="middle" font-size="17.5" font-weight="bold">Potencia [kW]</text></g>
<line x1="450.2" y1="249.4" x2="441" y2="231.5" stroke="#000" stroke-width="1.3"/><polygon points="436.4,222.9 438.6,236.8 442.8,232.2 447.3,232.4" fill="#000"/>
</svg></body></html>
